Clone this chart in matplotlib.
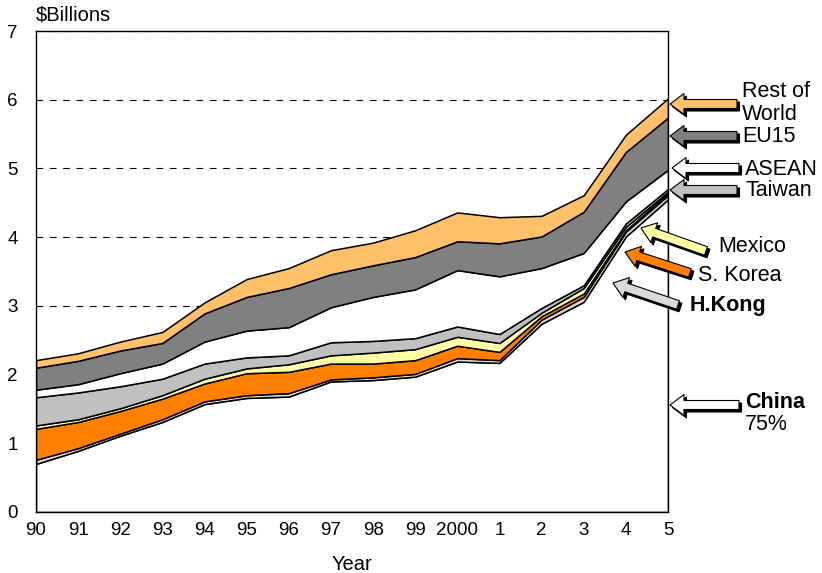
import matplotlib.pyplot as plt
from matplotlib.patches import FancyArrow
from matplotlib.transforms import IdentityTransform

plt.rcParams["font.family"] = ["Liberation Sans", "DejaVu Sans"]

years = ["90", "91", "92", "93", "94", "95", "96", "97", "98", "99",
         "2000", "1", "2", "3", "4", "5"]

# $ billions by source, bottom to top of the stack
china = [0.70, 0.89, 1.11, 1.31, 1.57, 1.66, 1.68, 1.90, 1.92, 1.97, 2.19, 2.17, 2.74, 3.06, 4.01, 4.55]
hkong = [0.06, 0.04, 0.03, 0.04, 0.04, 0.04, 0.05, 0.03, 0.04, 0.04, 0.05, 0.04, 0.06, 0.07, 0.07, 0.06]
skorea = [0.45, 0.38, 0.33, 0.30, 0.26, 0.32, 0.31, 0.23, 0.20, 0.20, 0.18, 0.12, 0.05, 0.05, 0.02, 0.03]
mexico = [0.05, 0.04, 0.04, 0.05, 0.07, 0.07, 0.11, 0.12, 0.16, 0.16, 0.13, 0.13, 0.05, 0.08, 0.05, 0.02]
taiwan = [0.41, 0.39, 0.32, 0.24, 0.22, 0.16, 0.13, 0.19, 0.17, 0.16, 0.15, 0.13, 0.07, 0.04, 0.05, 0.04]
asean = [0.11, 0.12, 0.19, 0.22, 0.32, 0.39, 0.41, 0.51, 0.64, 0.71, 0.82, 0.84, 0.58, 0.47, 0.32, 0.28]
eu15 = [0.32, 0.34, 0.33, 0.30, 0.41, 0.49, 0.57, 0.48, 0.46, 0.47, 0.42, 0.48, 0.46, 0.60, 0.72, 0.76]
rest = [0.11, 0.11, 0.13, 0.16, 0.16, 0.26, 0.29, 0.35, 0.33, 0.39, 0.42, 0.38, 0.30, 0.24, 0.25, 0.28]

colors = ["#ffffff", "#dadada", "#ff8000", "#ffffa6", "#c0c0c0", "#ffffff", "#808080", "#ffc06a"]

fig = plt.figure(figsize=(8.22, 5.73), dpi=100)
ax = fig.add_axes([36 / 822, 61 / 573, 632 / 822, 481 / 573])

x = list(range(len(years)))
ax.stackplot(x, china, hkong, skorea, mexico, taiwan, asean, eu15, rest,
             colors=colors, edgecolor="black", linewidth=1.1)

ax.set_xlim(0, 15)
ax.set_ylim(0, 7)
ax.set_xticks(x)
ax.set_xticklabels(years)
ax.set_yticks(range(8))
ax.tick_params(length=0, labelsize=13.5)
ax.tick_params(axis="y", pad=13)
ax.tick_params(axis="x", pad=7)
ax.set_axisbelow(True)
ax.yaxis.grid(True, color="black", linestyle=(0, (6, 6)), linewidth=0.8)
for s in ax.spines.values():
    s.set_linewidth(1)

ax.set_xlabel("Year", fontsize=14.5, labelpad=12)
fig.text(36 / 822, 1 - 15 / 573, "$Billions", fontsize=14.5, va="center", ha="left")


def block_arrow(tip, tail, color):
    # pixel coords measured from the top-left of the image
    x0, y0 = tail[0], 573 - tail[1]
    x1, y1 = tip[0], 573 - tip[1]
    for off, fc in [((2.5, -2.5), "black"), ((0, 0), color)]:
        a = FancyArrow(x0 + off[0], y0 + off[1], x1 - x0, y1 - y0, width=9,
                       head_width=21, head_length=14, length_includes_head=True,
                       facecolor=fc, edgecolor="black", linewidth=0.8,
                       transform=IdentityTransform(), clip_on=False)
        fig.add_artist(a)


block_arrow((670, 104), (737, 104), "#ffc06a")
block_arrow((670, 136), (737, 136), "#808080")
block_arrow((672, 168), (739, 168), "#ffffff")
block_arrow((670, 190), (737, 190), "#c0c0c0")
block_arrow((641, 228), (706, 251), "#ffffa6")
block_arrow((625, 252), (690, 273), "#ff8000")
block_arrow((613, 283), (678, 305), "#dadada")
block_arrow((670, 405), (739, 405), "#ffffff")

lab = dict(fontsize=15.5, va="center", ha="left")
fig.text(742 / 822, 1 - 103 / 573, "Rest of\nWorld", linespacing=1.1, **lab)
fig.text(742 / 822, 1 - 137 / 573, "EU15", **lab)
fig.text(745 / 822, 1 - 169 / 573, "ASEAN", **lab)
fig.text(745 / 822, 1 - 191 / 573, "Taiwan", **lab)
fig.text(718 / 822, 1 - 246 / 573, "Mexico", **lab)
fig.text(698 / 822, 1 - 275 / 573, "S. Korea", **lab)
fig.text(690 / 822, 1 - 305 / 573, "H.Kong", fontweight="bold", **lab)
fig.text(745 / 822, 1 - 402 / 573, "China", fontweight="bold", **lab)
fig.text(745 / 822, 1 - 425 / 573, "75%", **lab)

fig.savefig("out.png", dpi=100)
